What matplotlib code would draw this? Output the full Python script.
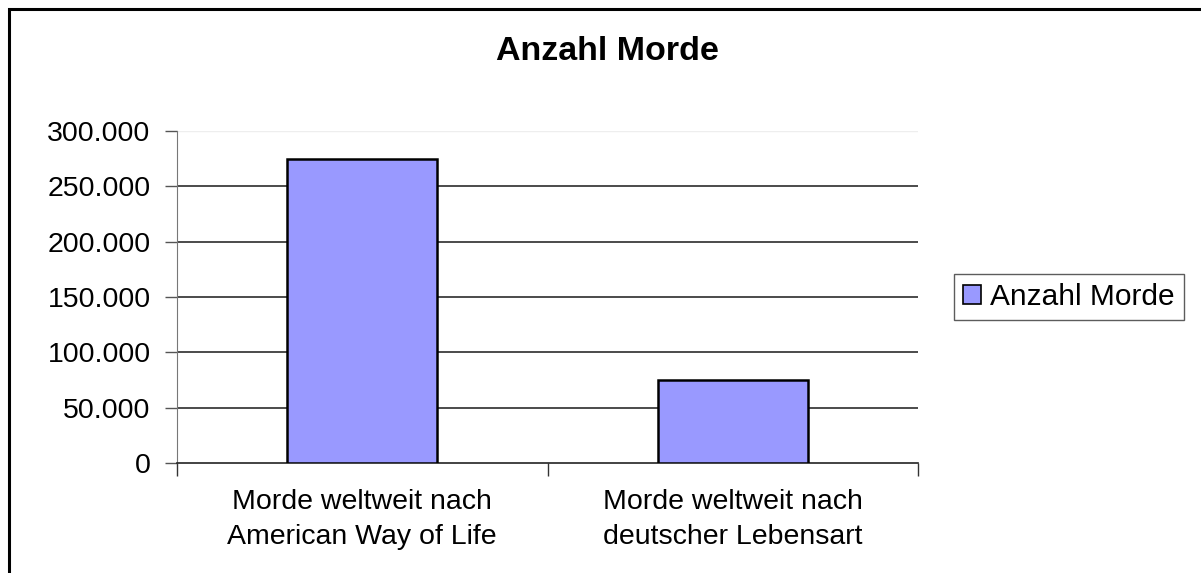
import matplotlib.pyplot as plt
from matplotlib.patches import Rectangle
from matplotlib.ticker import FuncFormatter, FixedLocator

plt.rcParams['font.family'] = ['Liberation Sans', 'DejaVu Sans']

categories = ['Morde weltweit nach\nAmerican Way of Life',
              'Morde weltweit nach\ndeutscher Lebensart']
values = [275000, 75000]
series_name = 'Anzahl Morde'
title = 'Anzahl Morde'
yticks = [0, 50000, 100000, 150000, 200000, 250000, 300000]

fig = plt.figure(figsize=(12.01, 5.73), dpi=100)
ax = fig.add_axes([177 / 1201, 1 - 463 / 573, 741 / 1201, 332 / 573])

x = list(range(len(categories)))
ax.bar(x, values, width=0.405, color='#9999ff', edgecolor='black',
       linewidth=1.8, label=series_name, zorder=3)

ax.set_xlim(-0.5, len(categories) - 0.5)
ax.set_ylim(0, 300000)
ax.set_yticks(yticks)
ax.yaxis.set_major_formatter(FuncFormatter(lambda v, p: f'{int(v):,}'.replace(',', '.')))

for v in yticks[1:-1]:
    ax.axhline(v, color='#1a1a1a', linewidth=1.1, zorder=1)
ax.axhline(yticks[-1], color='#eeeeee', linewidth=1.0, zorder=1)

ax.set_xticks(x)
ax.set_xticklabels(categories, fontsize=20.5, linespacing=1.45)
ax.xaxis.set_minor_locator(FixedLocator([-0.5, 0.5, 1.5]))
ax.tick_params(axis='x', which='major', length=0, pad=19)
ax.tick_params(axis='x', which='minor', length=9, width=1, color='#333333', direction='out')
ax.tick_params(axis='y', length=9, width=1, color='#555555', labelsize=20.5, pad=10)

for s in ['top', 'right']:
    ax.spines[s].set_visible(False)
ax.spines['left'].set_color('#777777')
ax.spines['bottom'].set_color('#222222')
ax.spines['bottom'].set_linewidth(1.2)

fig.text(607 / 1201, 1 - 51 / 573, title, ha='center', va='center',
         fontsize=24.5, fontweight='bold')

leg = fig.legend(loc='center', bbox_to_anchor=(1069 / 1201, 1 - 297 / 573),
                 fontsize=21.5, frameon=True, fancybox=False, handlelength=0.6,
                 handleheight=0.6, handletextpad=0.3, borderpad=0.3)
leg.get_frame().set_edgecolor('#333333')
leg.get_frame().set_linewidth(1.0)
for h in leg.legend_handles:
    h.set_linewidth(1.2)

fig.patches.append(Rectangle((8.5 / 1201, -0.05), 1.2, 1 - 9 / 573 + 0.05,
                             transform=fig.transFigure, fill=False,
                             edgecolor='black', linewidth=2.2))

fig.savefig('out.png', dpi=100)
